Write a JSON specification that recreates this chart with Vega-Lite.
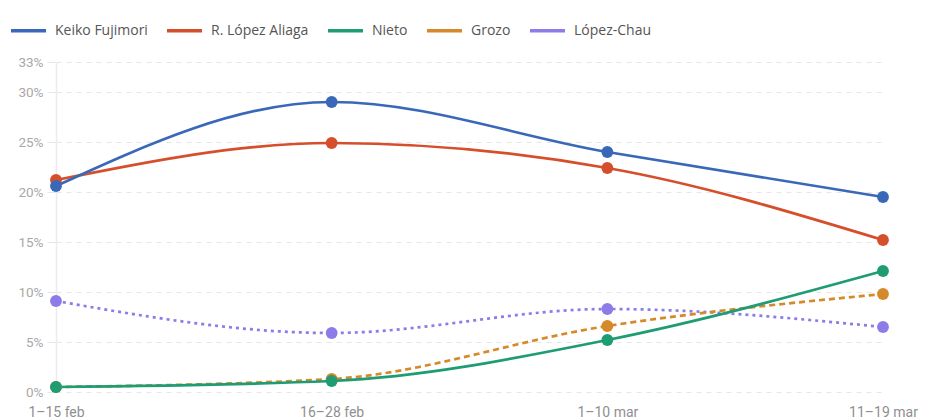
{
  "$schema": "https://vega.github.io/schema/vega-lite/v6.json",
  "width": 827,
  "height": 330,
  "autosize": {"type": "none"},
  "padding": {"left": 56, "top": 62, "right": 48, "bottom": 28},
  "background": "white",
  "config": {
    "view": {"stroke": null},
    "font": "Roboto"
  },
  "data": {
    "values": [
      {"periodo": "1–15 feb", "candidato": "López-Chau", "valor": 9.1},
      {"periodo": "16–28 feb", "candidato": "López-Chau", "valor": 5.9},
      {"periodo": "1–10 mar", "candidato": "López-Chau", "valor": 8.3},
      {"periodo": "11–19 mar", "candidato": "López-Chau", "valor": 6.5},
      {"periodo": "1–15 feb", "candidato": "Grozo", "valor": 0.5},
      {"periodo": "16–28 feb", "candidato": "Grozo", "valor": 1.3},
      {"periodo": "1–10 mar", "candidato": "Grozo", "valor": 6.6},
      {"periodo": "11–19 mar", "candidato": "Grozo", "valor": 9.8},
      {"periodo": "1–15 feb", "candidato": "Nieto", "valor": 0.5},
      {"periodo": "16–28 feb", "candidato": "Nieto", "valor": 1.1},
      {"periodo": "1–10 mar", "candidato": "Nieto", "valor": 5.2},
      {"periodo": "11–19 mar", "candidato": "Nieto", "valor": 12.1},
      {"periodo": "1–15 feb", "candidato": "R. López Aliaga", "valor": 21.2},
      {"periodo": "16–28 feb", "candidato": "R. López Aliaga", "valor": 24.9},
      {"periodo": "1–10 mar", "candidato": "R. López Aliaga", "valor": 22.4},
      {"periodo": "11–19 mar", "candidato": "R. López Aliaga", "valor": 15.2},
      {"periodo": "1–15 feb", "candidato": "Keiko Fujimori", "valor": 20.6},
      {"periodo": "16–28 feb", "candidato": "Keiko Fujimori", "valor": 29.0},
      {"periodo": "1–10 mar", "candidato": "Keiko Fujimori", "valor": 24.0},
      {"periodo": "11–19 mar", "candidato": "Keiko Fujimori", "valor": 19.5}
    ]
  },
  "encoding": {
    "x": {
      "field": "periodo",
      "type": "ordinal",
      "sort": ["1–15 feb", "16–28 feb", "1–10 mar", "11–19 mar"],
      "scale": {"type": "point", "padding": 0},
      "axis": {
        "title": null,
        "labelAngle": 0,
        "domain": false,
        "ticks": false,
        "grid": false,
        "labelFont": "Roboto",
        "labelColor": "#8f8f8f",
        "labelFontSize": 14,
        "labelPadding": 13
      }
    },
    "y": {
      "field": "valor",
      "type": "quantitative",
      "scale": {"domain": [0, 33], "nice": false},
      "axis": {
        "title": null,
        "values": [0, 5, 10, 15, 20, 25, 30, 33],
        "labelExpr": "datum.value + '%'",
        "domain": true,
        "domainColor": "#ececec",
        "domainWidth": 1.5,
        "ticks": true,
        "tickColor": "#e6e6e6",
        "tickSize": 9,
        "grid": true,
        "gridColor": "#e6e6e6",
        "gridDash": [5, 5],
        "labelFont": "Roboto",
        "labelColor": "#a8a8a8",
        "labelFontSize": 13.5,
        "labelPadding": 4
      }
    },
    "color": {
      "field": "candidato",
      "type": "nominal",
      "scale": {
        "domain": ["Keiko Fujimori", "R. López Aliaga", "Nieto", "Grozo", "López-Chau"],
        "range": ["#3a68b8", "#d64f2c", "#1e9c73", "#d6892a", "#8c7ce8"]
      },
      "legend": {
        "title": null,
        "orient": "none",
        "legendX": -47,
        "legendY": -51,
        "direction": "horizontal",
        "symbolType": "stroke",
        "symbolSize": 1225,
        "symbolStrokeWidth": 3.5,
        "labelFont": "Open Sans",
        "labelFontSize": 14,
        "labelColor": "#555555",
        "labelOffset": 7,
        "columnPadding": 12
      }
    }
  },
  "layer": [
    {
      "transform": [{"filter": {"field": "candidato", "equal": "López-Chau"}}],
      "mark": {"type": "line", "interpolate": "monotone", "strokeWidth": 2.7, "strokeDash": [3, 4]}
    },
    {
      "transform": [{"filter": {"field": "candidato", "equal": "Grozo"}}],
      "mark": {"type": "line", "interpolate": "monotone", "strokeWidth": 2.7, "strokeDash": [6, 4]}
    },
    {
      "transform": [{"filter": {"field": "candidato", "oneOf": ["Nieto", "R. López Aliaga", "Keiko Fujimori"]}}],
      "mark": {"type": "line", "interpolate": "monotone", "strokeWidth": 2.7}
    },
    {
      "mark": {"type": "point", "filled": true, "opacity": 1, "size": 140}
    }
  ]
}
